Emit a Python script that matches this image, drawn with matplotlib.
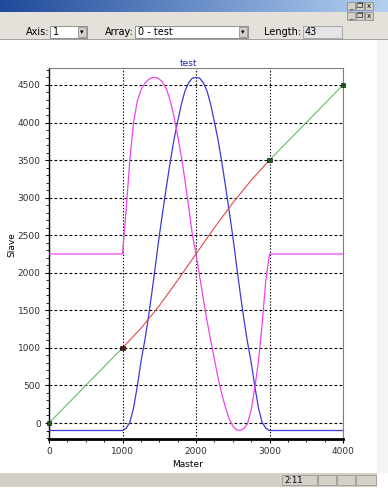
import numpy as np
import matplotlib.pyplot as plt
from matplotlib.patches import Rectangle
from matplotlib.ticker import MultipleLocator

W, H = 388, 498

# key points of the cam profile (square markers)
key_master = [0, 1000, 3000, 4000]
key_slave = [0, 1000, 3500, 4500]
key_colors = ['#1c5a1c', '#5a1414', '#1c5a1c', '#1c5a1c']

# red segment between the two middle key points
red_master = [1000, 1250, 1500, 1750, 2000, 2250, 2500, 2750, 3000]
red_slave = [1000, 1260, 1560, 1900, 2250, 2600, 2930, 3230, 3500]

# sampled curves (43 points)
curve_master = [0, 1000, 1050, 1100, 1150, 1200, 1250, 1300, 1350, 1400, 1450,
                1500, 1550, 1600, 1650, 1700, 1750, 1800, 1850, 1900, 1950,
                2000, 2050, 2100, 2150, 2200, 2250, 2300, 2350, 2400, 2450,
                2500, 2550, 2600, 2650, 2700, 2750, 2800, 2850, 2900, 2950,
                3000, 4000]
blue_slave = [-100, -100, -70, 10, 200, 480, 810, 1080, 1390, 1740, 2110,
              2490, 2830, 3160, 3480, 3770, 4010, 4240, 4420, 4530, 4590,
              4600, 4590, 4530, 4420, 4240, 4010, 3770, 3480, 3160, 2830,
              2490, 2110, 1740, 1390, 1080, 810, 490, 200, 10, -70,
              -100, -100]
magenta_slave = [2250, 2250, 2850, 3500, 4000, 4280, 4430, 4520, 4570, 4598, 4600,
                 4580, 4530, 4440, 4290, 4080, 3830, 3550, 3230, 2880, 2510,
                 2250, 1950, 1650, 1360, 1100, 850, 600, 390, 210, 60,
                 -40, -90, -100, -75, -10, 170, 470, 820, 1320, 1900,
                 2250, 2250]

x_ticks = [0, 1000, 2000, 3000, 4000]
y_ticks = [0, 500, 1000, 1500, 2000, 2500, 3000, 3500, 4000, 4500]

GREY = '#d4d0c8'
FONT = 'DejaVu Sans'

fig = plt.figure(figsize=(W / 100, H / 100), dpi=100)
fig.patch.set_facecolor('white')


def px_rect(x, y, w, h, **kw):
    fig.patches.append(Rectangle((x / W, 1 - (y + h) / H), w / W, h / H,
                                 transform=fig.transFigure, **kw))


def px_text(x, y, s, **kw):
    kw.setdefault('fontsize', 6.5)
    kw.setdefault('family', FONT)
    fig.text(x / W, 1 - y / H, s, **kw)


# window chrome -----------------------------------------------------------
px_rect(377, 40, 11, 433, facecolor='#f4f4f4', edgecolor='none')
px_rect(0, 12, W, 28, facecolor='#e4e1da', edgecolor='none')
px_rect(0, 39, W, 1, facecolor='#a0a0a0', edgecolor='none')

bar = fig.add_axes([0, 1 - 12 / H, 1, 12 / H])
grad = np.linspace(0, 1, 256).reshape(1, -1)
c0 = np.array([0x1e, 0x4a, 0x9a]) / 255
c1 = np.array([0xb4, 0xd0, 0xf2]) / 255
img = c0[None, None, :] * (1 - grad[..., None]) + c1[None, None, :] * grad[..., None]
bar.imshow(img, aspect='auto', extent=(0, 1, 0, 1))
bar.set_axis_off()

for row_y in (2, 12):
    for bx, glyph in zip((347, 356, 365), ('_', '❐', 'x')):
        px_rect(bx, row_y, 8, 8, facecolor=GREY, edgecolor='#808080', lw=0.5,
                zorder=5)
        px_text(bx + 4, row_y + 4.5, glyph, fontsize=5, ha='center',
                va='center', zorder=6)

# toolbar
px_text(49, 32, 'Axis:', ha='right', va='center', fontsize=7)
px_rect(50, 26, 37, 12, facecolor='white', edgecolor='#808080', lw=0.6)
px_text(53, 32, '1', va='center', fontsize=7)
px_rect(78, 27, 8, 10, facecolor=GREY, edgecolor='#808080', lw=0.5)
px_text(82, 32, '▾', ha='center', va='center', fontsize=5)

px_text(134, 32, 'Array:', ha='right', va='center', fontsize=7)
px_rect(135, 26, 113, 12, facecolor='white', edgecolor='#808080', lw=0.6)
px_text(138, 32, '0 - test', va='center', fontsize=7)
px_rect(239, 27, 8, 10, facecolor=GREY, edgecolor='#808080', lw=0.5)
px_text(243, 32, '▾', ha='center', va='center', fontsize=5)

px_text(301, 32, 'Length:', ha='right', va='center', fontsize=7)
px_rect(303, 26, 39, 12, facecolor='#e4e4e4', edgecolor='#a0a0a0', lw=0.6)
px_text(305, 32, '43', va='center', fontsize=7)

# status bar
px_rect(0, 473, 377, 14, facecolor=GREY, edgecolor='none')
for sx, sw in ((282, 35), (318, 18), (337, 18), (356, 20)):
    px_rect(sx, 475, sw, 10, facecolor=GREY, edgecolor='#909090', lw=0.5)
px_text(284, 480, '2:11', va='center', fontsize=6)

# chart ---------------------------------------------------------------------
ax = fig.add_axes([49 / W, 1 - 439 / H, (343 - 49) / W, (439 - 68) / H])

ax.plot(curve_master, blue_slave, color='#3a3ad8', lw=0.9, zorder=3)
ax.plot(curve_master, magenta_slave, color='#ee44ee', lw=0.9, zorder=3)
ax.plot(red_master, red_slave, color='#e04848', lw=0.8, zorder=4)
ax.plot(key_master[:2], key_slave[:2], color='#60c060', lw=0.8, zorder=4)
ax.plot(key_master[2:], key_slave[2:], color='#60c060', lw=0.8, zorder=4)
ax.scatter(key_master, key_slave, marker='s', s=9, c=key_colors,
           edgecolors='black', linewidths=0.4, zorder=6, clip_on=False)

ax.set_xlim(0, 4000)
ax.set_ylim(-213, 4726)
ax.set_xticks(x_ticks)
ax.set_yticks(y_ticks)
ax.xaxis.set_minor_locator(MultipleLocator(250))
ax.yaxis.set_minor_locator(MultipleLocator(100))

ax.xaxis.grid(True, color='black', ls=(0, (1.2, 1.6)), lw=0.8)
ax.yaxis.grid(True, color='black', ls=(0, (2.5, 2)), lw=0.8)
ax.set_axisbelow(True)

for side in ('top', 'right'):
    ax.spines[side].set_color('#808080')
    ax.spines[side].set_linewidth(0.8)
ax.spines['left'].set_linewidth(1.0)
ax.spines['bottom'].set_linewidth(2.0)

ax.tick_params(which='major', direction='out', length=3, width=0.8,
               labelsize=6.5, labelcolor='#303030', pad=3)
ax.tick_params(which='minor', direction='out', length=2, width=0.6)
for lab in ax.get_xticklabels() + ax.get_yticklabels():
    lab.set_family(FONT)

px_text(188, 63, 'test', ha='center', va='center', color='#2020b8')
px_text(188, 464, 'Master', ha='center', va='center')
px_text(12, 245, 'Slave', ha='center', va='center', rotation=90)

fig.savefig('out.png', dpi=100)
